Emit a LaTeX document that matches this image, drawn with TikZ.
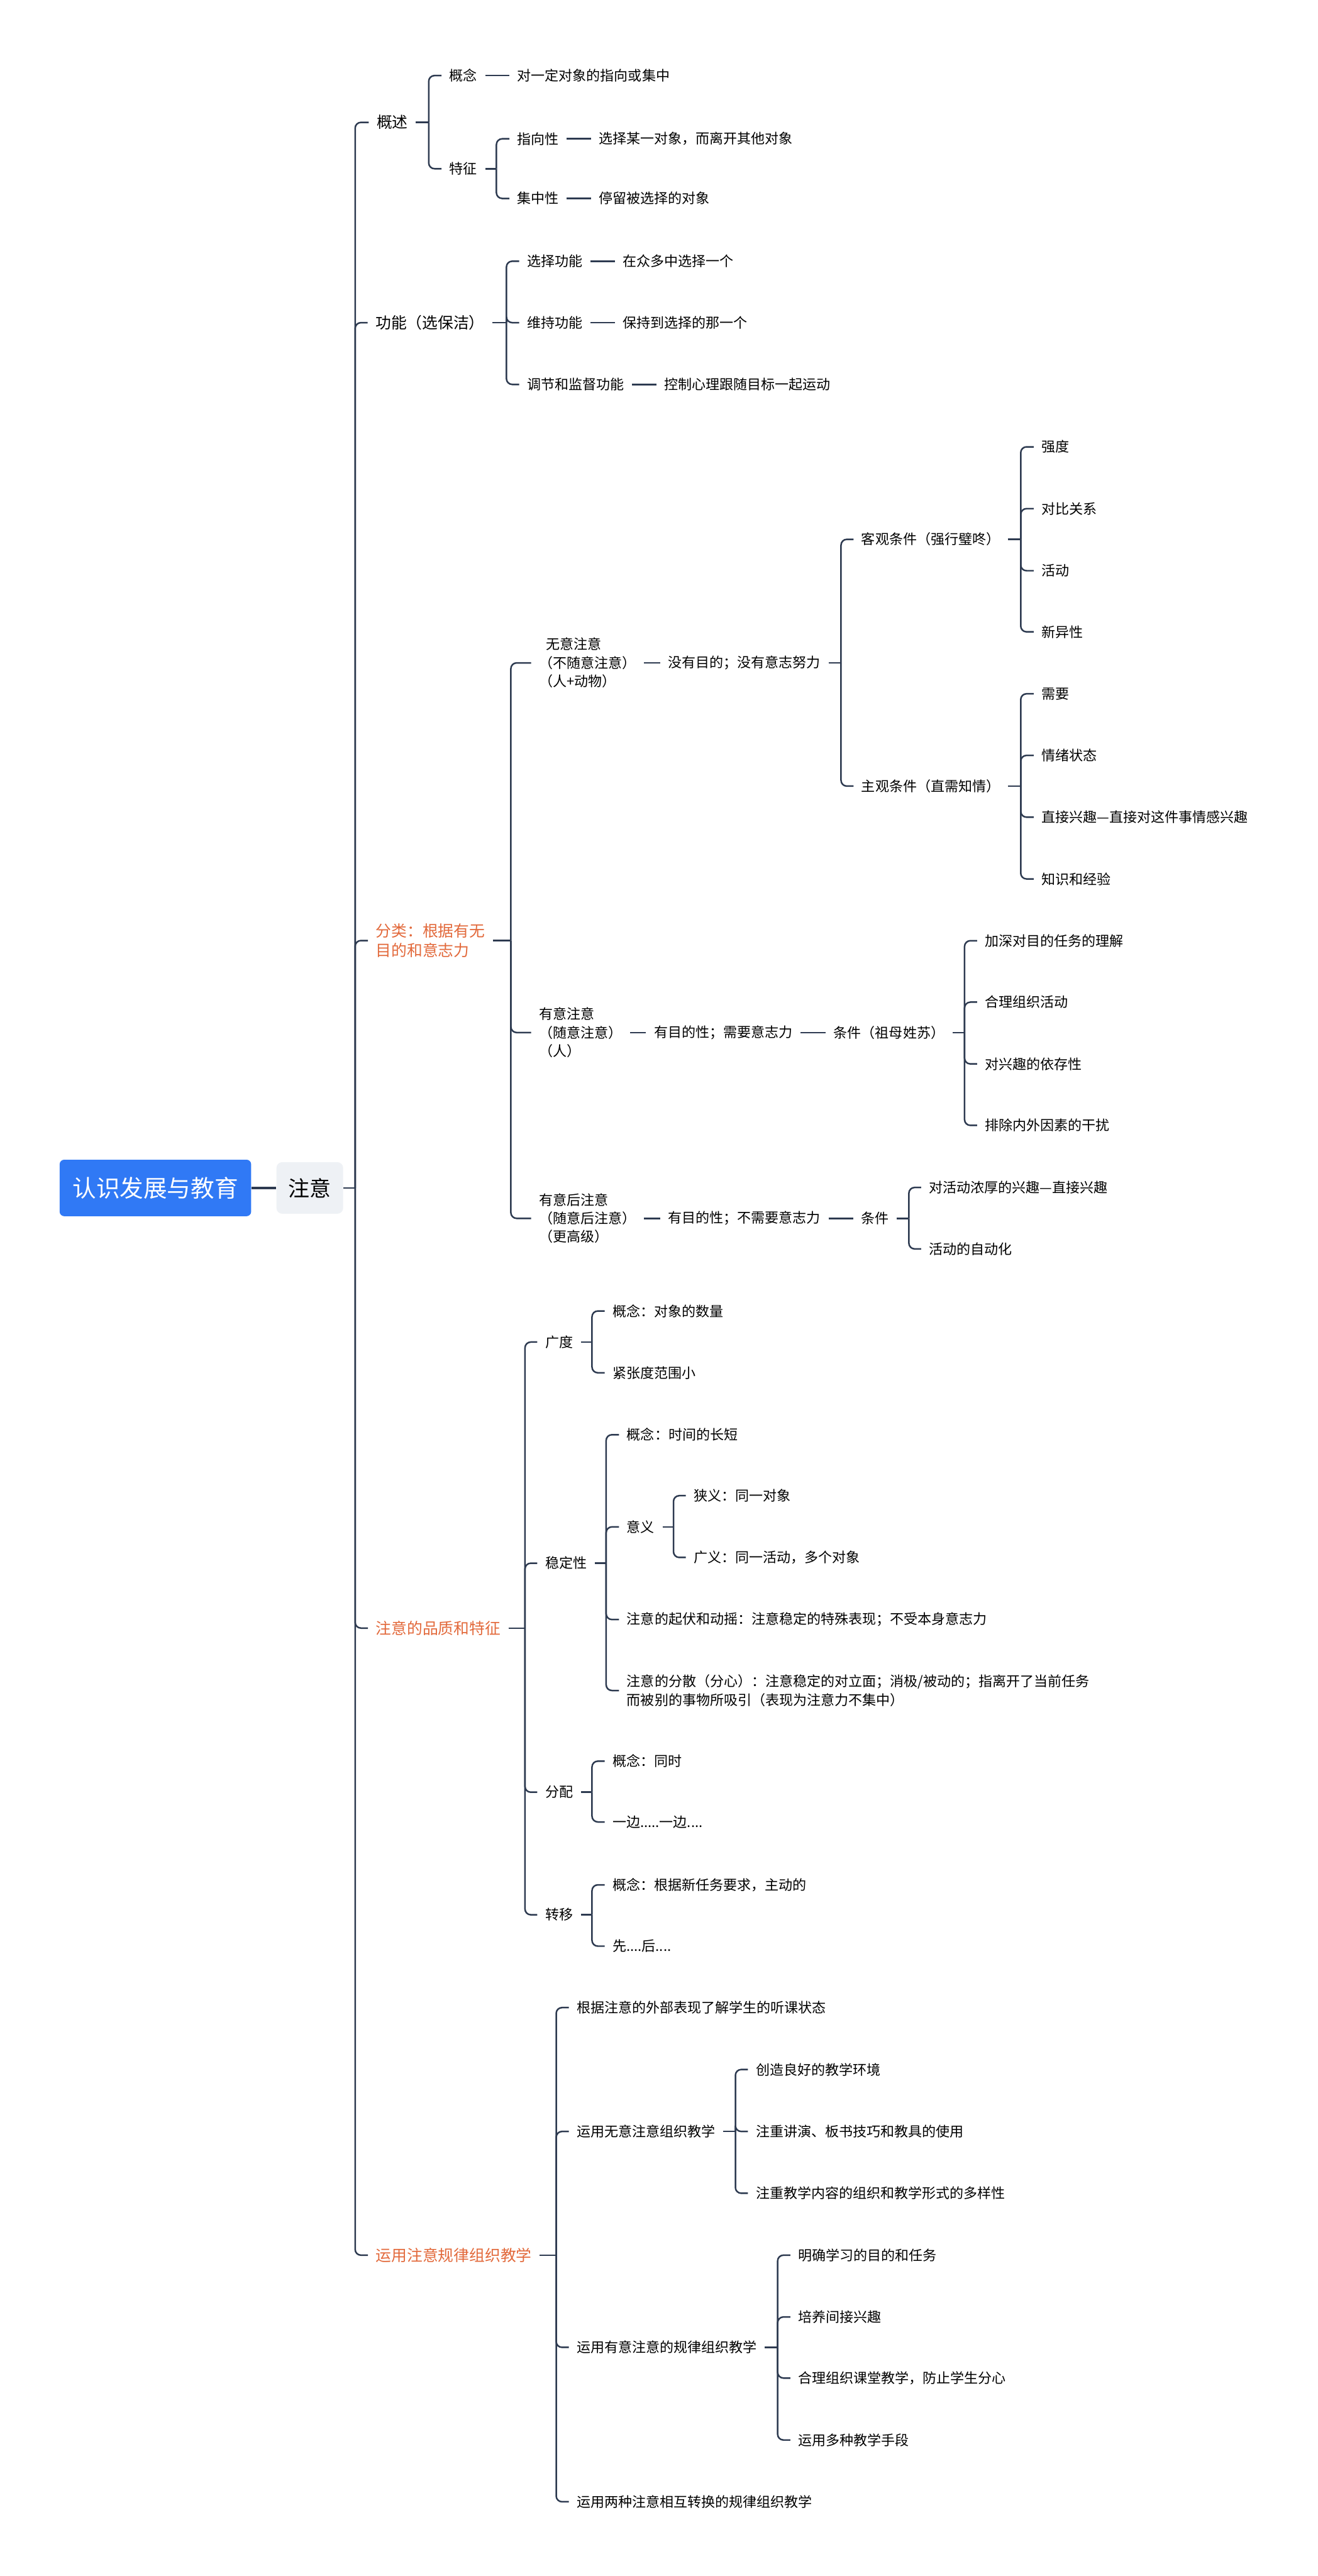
\documentclass[tikz,border=0pt]{standalone}
\usepackage{fontspec}
\setmainfont{Noto Sans CJK SC}
\definecolor{linec}{HTML}{2D3A50}
\definecolor{rootc}{HTML}{3079F5}
\definecolor{subc}{HTML}{EEF1F5}
\definecolor{hotc}{HTML}{E2693B}
% parent, x of the bracket, children
\newcommand{\fork}[3]{%
  \coordinate (bk) at (#2,0);
  \draw[link] (#1.east) -- (#1.east -| bk);
  \foreach \kid in {#3}{\draw[link] (#1.east -| bk) |- (\kid.west);}
}
\begin{document}
\begin{tikzpicture}[x=0.05cm,y=-0.05cm,
  link/.style={draw=linec,line width=1.35pt,rounded corners=5pt},
  leaf/.style={anchor=west,xshift=-0.235cm,inner xsep=0.235cm,inner ysep=1pt,
    font=\fontsize{12}{16}\selectfont,align=left},
  main/.style={leaf,font=\fontsize{13.5}{17}\selectfont},
  hot/.style={main,text=hotc}]
\useasboundingbox (0,0) rectangle (802,1568);
\node[fill=rootc,text=white,rounded corners=4pt,minimum width=5.83cm,minimum height=1.72cm,
  font=\fontsize{20.5}{24}\selectfont] (root) at (94.6,723.1) {认识发展与教育};
\node[fill=subc,rounded corners=5pt,minimum width=2.03cm,minimum height=1.57cm,
  font=\fontsize{18.5}{22}\selectfont] (zy) at (188.6,723.1) {注意};
\draw[linec,line width=2.4pt] (root.east) -- (zy.west);
% first level
\node[main] (gs) at (229.2,74.5) {概述};
\node[main] (gn) at (228.5,196.4) {功能（选保洁）};
\node[hot] (fl) at (228.7,572.5) {分类：根据有无\\目的和意志力};
\node[hot] (pz) at (228.7,991) {注意的品质和特征};
\node[hot] (yy) at (228.7,1372.7) {运用注意规律组织教学};
\fork{zy}{216.2}{gs,gn,fl,pz,yy}
% 概述
\node[leaf] (gsa) at (273.5,46) {概念};
\node[leaf] (gsat) at (314.8,46) {对一定对象的指向或集中};
\node[leaf] (tz) at (273.5,102.7) {特征};
\node[leaf] (zx) at (314.8,84.5) {指向性};
\node[leaf] (zxt) at (364.4,84.5) {选择某一对象，而离开其他对象};
\node[leaf] (jz) at (314.8,120.8) {集中性};
\node[leaf] (jzt) at (364.4,120.8) {停留被选择的对象};
\fork{gs}{261}{gsa,tz}
\fork{tz}{302.2}{zx,jz}
\draw[link] (gsa.east) -- (gsat.west);
\draw[link] (zx.east) -- (zxt.west);
\draw[link] (jz.east) -- (jzt.west);
% 功能
\node[leaf] (xz) at (320.8,159) {选择功能};
\node[leaf] (xzt) at (379,159) {在众多中选择一个};
\node[leaf] (wc) at (320.8,196.4) {维持功能};
\node[leaf] (wct) at (379,196.4) {保持到选择的那一个};
\node[leaf] (tj) at (320.8,234) {调节和监督功能};
\node[leaf] (tjt) at (404.3,234) {控制心理跟随目标一起运动};
\fork{gn}{308.3}{xz,wc,tj}
\draw[link] (xz.east) -- (xzt.west);
\draw[link] (wc.east) -- (wct.west);
\draw[link] (tj.east) -- (tjt.west);
% 分类
\node[leaf] (wy) at (328,403.5) {\hspace*{0.5em}无意注意\\（不随意注意）\\（人+动物）};
\node[leaf] (wyt) at (406.6,403.5) {没有目的；没有意志努力};
\node[leaf] (kg) at (524.3,328.3) {客观条件（强行璧咚）};
\node[leaf] (kg1) at (634,272) {强度};
\node[leaf] (kg2) at (634,309.6) {对比关系};
\node[leaf] (kg3) at (634,347.4) {活动};
\node[leaf] (kg4) at (634,384.6) {新异性};
\node[leaf] (zg) at (524.3,478.5) {主观条件（直需知情）};
\node[leaf] (zg1) at (634,422.3) {需要};
\node[leaf] (zg2) at (634,459.8) {情绪状态};
\node[leaf] (zg3) at (634,497.4) {直接兴趣—直接对这件事情感兴趣};
\node[leaf] (zg4) at (634,535) {知识和经验};
\draw[link] (wy.east) -- (wyt.west);
\fork{wyt}{512}{kg,zg}
\fork{kg}{621.4}{kg1,kg2,kg3,kg4}
\fork{zg}{621.4}{zg1,zg2,zg3,zg4}
\node[leaf] (ky) at (328,628.5) {有意注意\\（随意注意）\\（人）};
\node[leaf] (kyt) at (398,628.5) {有目的性；需要意志力};
\node[leaf] (kyc) at (507.4,628.5) {条件（祖母姓苏）};
\node[leaf] (kyc1) at (599.5,572.6) {加深对目的任务的理解};
\node[leaf] (kyc2) at (599.5,610) {合理组织活动};
\node[leaf] (kyc3) at (599.5,647.6) {对兴趣的依存性};
\node[leaf] (kyc4) at (599.5,685) {排除内外因素的干扰};
\draw[link] (ky.east) -- (kyt.west);
\draw[link] (kyt.east) -- (kyc.west);
\fork{kyc}{587.2}{kyc1,kyc2,kyc3,kyc4}
\node[leaf] (hy) at (328,741.6) {有意后注意\\（随意后注意）\\（更高级）};
\node[leaf] (hyt) at (406.6,741.6) {有目的性；不需要意志力};
\node[leaf] (hyc) at (524.2,741.6) {条件};
\node[leaf] (hyc1) at (565.5,722.8) {对活动浓厚的兴趣—直接兴趣};
\node[leaf] (hyc2) at (565.5,760.2) {活动的自动化};
\draw[link] (hy.east) -- (hyt.west);
\draw[link] (hyt.east) -- (hyc.west);
\fork{hyc}{553.3}{hyc1,hyc2}
\fork{fl}{311}{wy,ky,hy}
% 品质和特征
\node[leaf] (gd) at (331.8,816.9) {广度};
\node[leaf] (gd1) at (372.8,798) {概念：对象的数量};
\node[leaf] (gd2) at (372.8,835.6) {紧张度范围小};
\fork{gd}{360.4}{gd1,gd2}
\node[leaf] (wd) at (331.8,951.5) {稳定性};
\node[leaf] (wd1) at (381.5,873.3) {概念：时间的长短};
\node[leaf] (yi) at (381.5,929.4) {意义};
\node[leaf] (yi1) at (422.2,910.4) {狭义：同一对象};
\node[leaf] (yi2) at (422.2,948) {广义：同一活动，多个对象};
\node[leaf] (wd3) at (381.5,985.8) {注意的起伏和动摇：注意稳定的特殊表现；不受本身意志力};
\node[leaf] (wd4) at (381.5,1029) {注意的分散（分心）：注意稳定的对立面；消极/被动的；指离开了当前任务\\而被别的事物所吸引（表现为注意力不集中）};
\fork{wd}{369}{wd1,yi,wd3,wd4}
\fork{yi}{410}{yi1,yi2}
\node[leaf] (fp) at (331.8,1090.9) {分配};
\node[leaf] (fp1) at (372.8,1072) {概念：同时};
\node[leaf] (fp2) at (372.8,1109) {一边.....一边....};
\fork{fp}{360.4}{fp1,fp2}
\node[leaf] (zyi) at (331.8,1165.5) {转移};
\node[leaf] (zyi1) at (372.8,1147.3) {概念：根据新任务要求，主动的};
\node[leaf] (zyi2) at (372.8,1184.6) {先....后....};
\fork{zyi}{360.4}{zyi1,zyi2}
\fork{pz}{319.6}{gd,wd,fp,zyi}
% 组织教学
\node[leaf] (yy1) at (351,1222) {根据注意的外部表现了解学生的听课状态};
\node[leaf] (yy2) at (351,1297.4) {运用无意注意组织教学};
\node[leaf] (yy21) at (460,1259.7) {创造良好的教学环境};
\node[leaf] (yy22) at (460,1297.4) {注重讲演、板书技巧和教具的使用};
\node[leaf] (yy23) at (460,1335) {注重教学内容的组织和教学形式的多样性};
\node[leaf] (yy3) at (351,1428.8) {运用有意注意的规律组织教学};
\node[leaf] (yy31) at (485.8,1372.7) {明确学习的目的和任务};
\node[leaf] (yy32) at (485.8,1410.3) {培养间接兴趣};
\node[leaf] (yy33) at (485.8,1447.5) {合理组织课堂教学，防止学生分心};
\node[leaf] (yy34) at (485.8,1485.2) {运用多种教学手段};
\node[leaf] (yy4) at (351,1522.8) {运用两种注意相互转换的规律组织教学};
\fork{yy2}{447.7}{yy21,yy22,yy23}
\fork{yy3}{473.4}{yy31,yy32,yy33,yy34}
\fork{yy}{338.6}{yy1,yy2,yy3,yy4}
\end{tikzpicture}
\end{document}
